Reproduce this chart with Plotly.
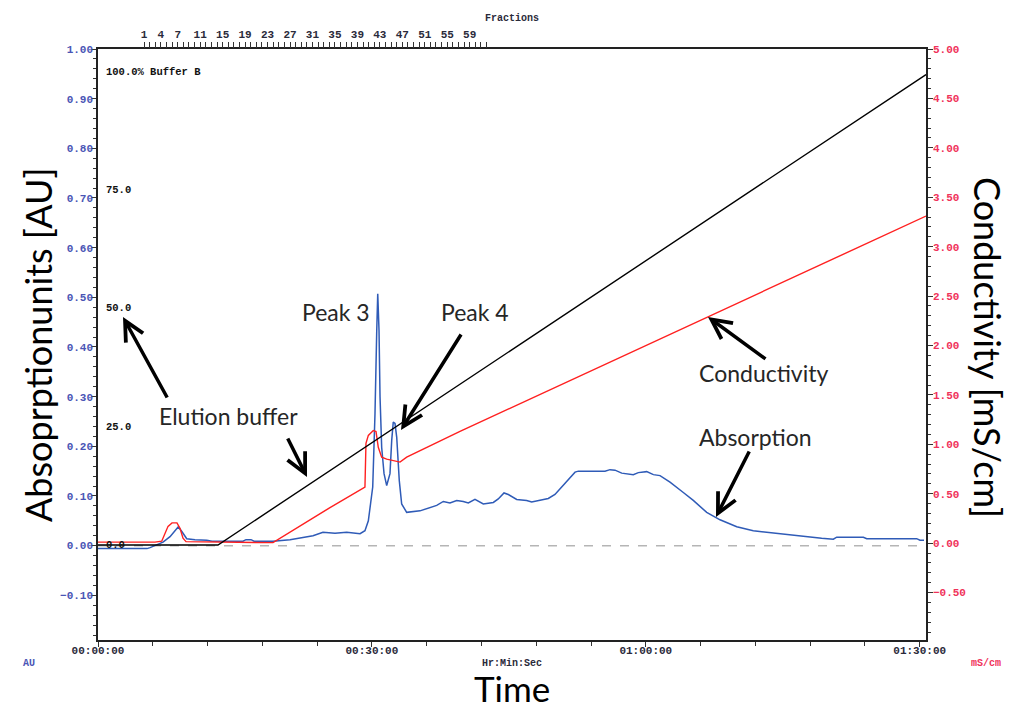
import plotly.graph_objects as go

# ---------------- data ----------------
# Absorption (AU) vs time (min)
abs_time = [0.0, 5.37, 5.70, 6.24, 7.12, 7.89, 8.43, 8.80, 9.20, 9.72, 10.62, 11.91, 12.49,
            15.88, 16.21, 16.76, 17.09, 19.17, 21.03, 22.86, 23.55, 24.64, 25.96, 27.24,
            28.70, 29.24, 29.61, 30.09, 30.34, 30.53, 30.64, 30.78, 30.89, 31.07, 31.33,
            31.62, 31.98, 32.17, 32.34, 32.53, 32.72, 33.00, 33.26, 33.81, 35.27, 37.10,
            37.82, 38.55, 39.29, 40.01, 40.56, 41.29, 42.20, 43.30, 43.84, 44.47, 44.94,
            45.86, 46.95, 47.50, 48.41, 49.32, 50.05, 50.79, 51.51, 52.25, 52.61, 55.53,
            56.08, 56.63, 57.36, 58.63, 59.18, 60.10, 60.83, 61.56, 62.65, 63.75, 64.11,
            65.20, 66.67, 68.13, 69.96, 71.77, 73.60, 75.43, 78.35, 79.26, 80.54, 80.91,
            83.83, 84.20, 89.67, 90.03, 90.47]
abs_au = [-0.006, -0.006, -0.004, 0.000, 0.007, 0.018, 0.030, 0.038, 0.028, 0.014, 0.012, 0.011, 0.009,
          0.009, 0.012, 0.012, 0.009, 0.009, 0.012, 0.017, 0.020, 0.027, 0.025, 0.027,
          0.024, 0.030, 0.050, 0.118, 0.266, 0.433, 0.507, 0.433, 0.300, 0.198, 0.145,
          0.121, 0.145, 0.212, 0.249, 0.246, 0.218, 0.131, 0.084, 0.067, 0.070, 0.081,
          0.089, 0.086, 0.091, 0.089, 0.086, 0.093, 0.084, 0.087, 0.094, 0.106, 0.103,
          0.093, 0.091, 0.088, 0.092, 0.095, 0.103, 0.118, 0.134, 0.148, 0.150, 0.150,
          0.153, 0.152, 0.146, 0.143, 0.147, 0.149, 0.143, 0.141, 0.128, 0.111, 0.107,
          0.091, 0.067, 0.052, 0.038, 0.030, 0.026, 0.022, 0.017, 0.015, 0.013, 0.017,
          0.017, 0.014, 0.014, 0.011, 0.011]

# Conductivity (mS/cm) vs time (min)
cond_time = [0.0, 6.24, 6.98, 7.34, 7.67, 8.11, 8.65, 8.98, 9.31, 9.64, 14.46, 19.17, 25.41,
             29.24, 29.35, 29.61, 30.15, 30.45, 30.70, 31.07, 31.62, 33.08, 33.81, 39.65, 90.69]
cond_ms = [0.010, 0.010, 0.020, 0.100, 0.170, 0.205, 0.205, 0.150, 0.050, 0.015, 0.008, 0.005, 0.360,
           0.567, 1.010, 1.090, 1.140, 1.130, 0.970, 0.870, 0.850, 0.820, 0.870, 1.130, 3.310]

# Buffer B (%) vs time (min)
buf_time = [0.0, 13.14, 90.69]
buf_pct = [0.0, 0.0, 99.4]
buf_labels = ["0.0", "25.0", "50.0", "75.0", "100.0% Buffer B"]
buf_label_vals = [0, 25, 50, 75, 100]

# Fractions
frac_first_start = 5.04   # min
frac_width = 0.615        # min
n_fractions = 61
frac_labels = [1, 4, 7, 11, 15, 19, 23, 27, 31, 35, 39, 43, 47, 51, 55, 59]

# Axis ticks
time_ticks = [0, 30, 60, 90]
time_tick_labels = ["00:00:00", "00:30:00", "01:00:00", "01:30:00"]

# ---------------- layout helpers ----------------
W, H = 1009, 711
L, R, T, B = 98, 83, 49, 71
PW, PH = W - L - R, H - T - B


def px(x):
    return (x - L) / PW


def py(y):
    return (H - B - y) / PH


BLUE = "#2f5bb7"
RED = "#ff2020"
TXT = "#262626"
MONO = "Liberation Mono"
SANS = "Lato"

fig = go.Figure()

fig.add_trace(go.Scatter(x=buf_time, y=buf_pct, mode="lines", yaxis="y3",
                         line=dict(color="black", width=1.4), showlegend=False))
fig.add_trace(go.Scatter(x=cond_time, y=cond_ms, mode="lines", yaxis="y2",
                         line=dict(color=RED, width=1.4), showlegend=False))
fig.add_trace(go.Scatter(x=abs_time, y=abs_au, mode="lines", yaxis="y",
                         line=dict(color=BLUE, width=1.5), showlegend=False))
# fractions axis carrier (invisible)
fig.add_trace(go.Scatter(x=[0], y=[0], xaxis="x2", mode="markers",
                         marker=dict(opacity=0), hoverinfo="skip", showlegend=False))

frac_ticks = [frac_first_start + i * frac_width for i in range(n_fractions + 1)]
frac_text = [str(i + 1) if (i + 1) in frac_labels else "" for i in range(n_fractions + 1)]

XR = [0, 90.69]
tickfont_dark = dict(family=MONO, size=11, color="#2a2a3a", weight="bold")

fig.update_layout(
    width=W, height=H,
    margin=dict(l=L, r=R, t=T, b=B),
    plot_bgcolor="white", paper_bgcolor="white",
    xaxis=dict(range=XR, tickvals=time_ticks, ticktext=time_tick_labels,
               ticks="outside", ticklen=5, tickcolor="#333", showgrid=False, zeroline=False,
               showline=True, linecolor="#222", linewidth=1.5, mirror=True,
               tickfont=tickfont_dark, ticklabelstandoff=-6,
               minor=dict(dtick=6, ticks="outside", ticklen=4, tickcolor="#333")),
    xaxis2=dict(range=XR, overlaying="x", side="top", anchor="y",
                tickvals=frac_ticks, ticktext=frac_text, ticks="outside", ticklen=6,
                tickcolor="#333", showgrid=False, zeroline=False, showline=False,
                tickfont=tickfont_dark, tickangle=0),
    yaxis=dict(range=[-0.19, 1.0], dtick=0.1, tick0=0, tickformat=".2f",
               ticks="outside", ticklen=5, tickcolor="#333", showgrid=False, zeroline=False,
               showline=True, linecolor="#222", linewidth=1.5, ticklabelstandoff=-4,
               tickfont=dict(family=MONO, size=11, color="#4a55b5", weight="bold"),
               minor=dict(dtick=0.02, ticks="outside", ticklen=3, tickcolor="#333")),
    yaxis2=dict(range=[-0.98, 5.0], dtick=0.5, tick0=0, tickformat=".2f",
                overlaying="y", side="right", anchor="x",
                ticks="outside", ticklen=5, tickcolor="#333", showgrid=False, zeroline=False,
                showline=True, linecolor="#222", linewidth=1.5, ticklabelstandoff=-2,
                tickfont=dict(family=MONO, size=11, color="#f0325a", weight="bold"),
                minor=dict(dtick=0.1, ticks="outside", ticklen=3, tickcolor="#333")),
    yaxis3=dict(range=[-20.07, 104.8], overlaying="y", showticklabels=False, ticks="",
                showgrid=False, zeroline=False, showline=False),
)

# dashed zero baseline
fig.add_shape(type="line", xref="paper", yref="y", x0=0, x1=1, y0=0, y1=0,
              line=dict(color="#b5b5b5", width=1.5, dash="dash"), layer="below")

ann = []
# buffer B labels
for v, t in zip(buf_label_vals, buf_labels):
    ann.append(dict(xref="paper", yref="y3", x=px(104), y=v, text=t, showarrow=False,
                    xanchor="left", yanchor="middle",
                    font=dict(family=MONO, size=10.5, color="#111", weight="bold")))

# small axis captions
small = dict(family=MONO, size=10, weight="bold")
for txt, cx, cy, col in [("Fractions", 512, 18, "#2a2a3a"), ("Hr:Min:Sec", 512, 664, "#2a2a3a"),
                         ("AU", 29, 664, "#4a55b5"), ("mS/cm", 986, 664, "#f0325a")]:
    ann.append(dict(xref="paper", yref="paper", x=px(cx), y=py(cy), text=txt, showarrow=False,
                    xanchor="center", yanchor="middle", font=dict(**small, color=col)))

# big titles
ann += [
    dict(xref="paper", yref="paper", x=px(38), y=py(345), text="Absoprptionunits [AU]",
         textangle=-90, showarrow=False, xanchor="center", yanchor="middle",
         font=dict(family=SANS, size=36, color="black")),
    dict(xref="paper", yref="paper", x=px(988), y=py(347), text="Conductivity [mS/cm]",
         textangle=90, showarrow=False, xanchor="center", yanchor="middle",
         font=dict(family=SANS, size=36, color="black")),
    dict(xref="paper", yref="paper", x=px(512), y=py(688), text="Time",
         showarrow=False, xanchor="center", yanchor="middle",
         font=dict(family=SANS, size=35, color="black")),
]

# callout labels
lab = dict(family=SANS, size=23, color=TXT)
for txt, cx, cy in [("Peak 3", 336, 312), ("Peak 4", 475, 312), ("Elution buffer", 228, 416),
                    ("Conductivity", 763, 373), ("Absorption", 755, 437)]:
    ann.append(dict(xref="paper", yref="paper", x=px(cx), y=py(cy), text=txt, showarrow=False,
                    xanchor="center", yanchor="middle", font=lab))

# arrows: (tip, tail)
for (tx, ty), (sx, sy) in [((123, 317), (168, 399)), ((307, 477), (287, 437)),
                           ((401, 430), (462, 333)), ((708, 317), (767, 360)),
                           ((716, 517), (750, 450))]:
    ann.append(dict(xref="paper", yref="paper", x=px(tx), y=py(ty), ax=sx - tx, ay=sy - ty,
                    text="", showarrow=True, arrowhead=5, arrowsize=1.1, arrowwidth=3.5,
                    arrowcolor="black"))

fig.update_layout(annotations=ann)

fig.write_html("out.html")
